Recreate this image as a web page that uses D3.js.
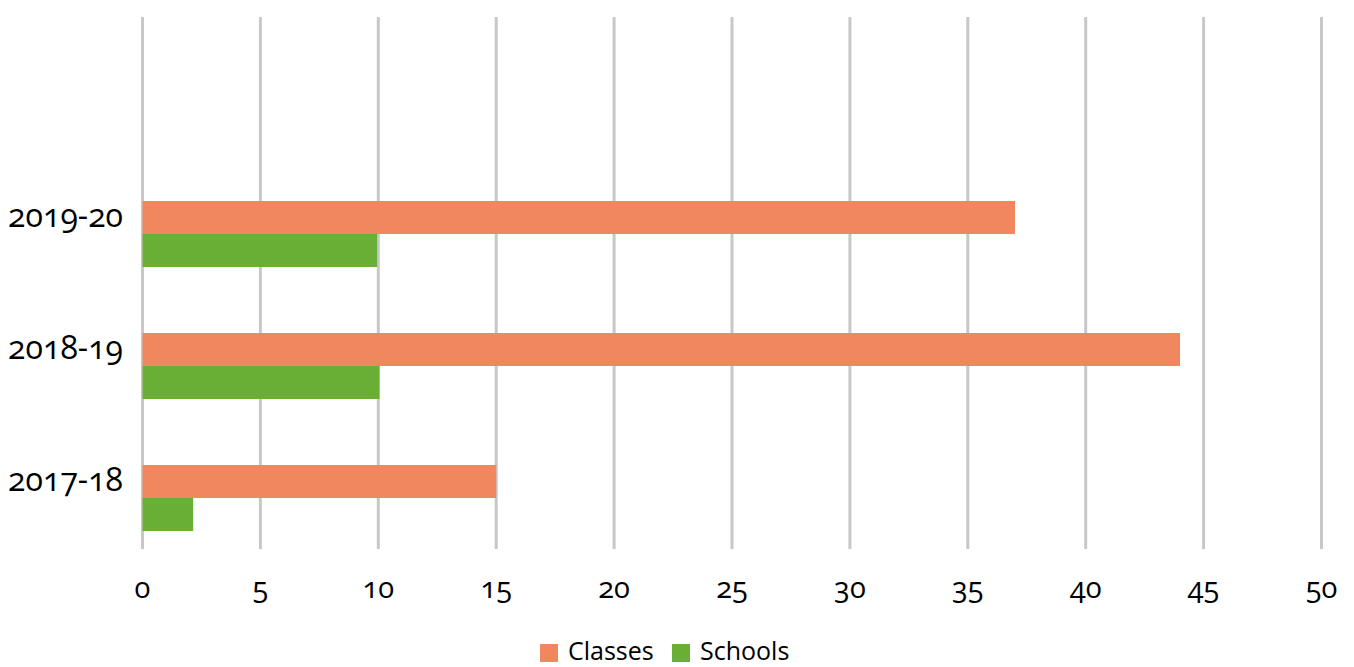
<!DOCTYPE html>
<html>
<head>
<meta charset="utf-8">
<script src="https://cdn.jsdelivr.net/npm/d3@7"></script>
<style>
  body { margin: 0; background: #fff; }
  text { font-family: "Open Sans", sans-serif; font-variant-numeric: oldstyle-nums; fill: #000; }
</style>
</head>
<body>
<script>
var years = ["2019-20", "2018-19", "2017-18"];
var seriesNames = ["Classes", "Schools"];
var classes = [37, 44, 15];
var schools = [9.95, 10.05, 2.15];
var xTicks = [0, 5, 10, 15, 20, 25, 30, 35, 40, 45, 50];
var colors = ["#F0875E", "#6AAF35"];

var w = 1354;
var h = 667;

var svg = d3.select("body")
  .append("svg")
  .attr("width", w)
  .attr("height", h);

var x = d3.scaleLinear().domain([0, 50]).range([142.5, 1321.5]);
var y = d3.scaleBand().domain(years).range([168, 564]);
var y1 = d3.scaleBand().domain(seriesNames)
  .range([y.bandwidth() / 4, y.bandwidth() * 3 / 4]);

// grid lines
svg.selectAll("line.grid")
  .data(xTicks)
  .enter()
  .append("line")
  .attr("class", "grid")
  .attr("x1", function(d) { return x(d); })
  .attr("x2", function(d) { return x(d); })
  .attr("y1", 17)
  .attr("y2", 549)
  .attr("stroke", "#c8c8c8")
  .attr("stroke-width", 3);

// tick labels
svg.selectAll("text.xt")
  .data(xTicks)
  .enter()
  .append("text")
  .attr("class", "xt")
  .attr("x", function(d) { return x(d); })
  .attr("y", 598)
  .attr("text-anchor", "middle")
  .attr("font-size", 29)
  .text(function(d) { return d; });

var rows = years.map(function(yr, i) {
  return { year: yr, values: [classes[i], schools[i]] };
});

var groups = svg.selectAll("g.row")
  .data(rows)
  .enter()
  .append("g")
  .attr("transform", function(d) { return "translate(0," + y(d.year) + ")"; });

groups.selectAll("rect")
  .data(function(d) {
    return d.values.map(function(v, j) { return { name: seriesNames[j], value: v, c: colors[j] }; });
  })
  .enter()
  .append("rect")
  .attr("x", x(0))
  .attr("y", function(d) { return y1(d.name); })
  .attr("width", function(d) { return x(d.value) - x(0); })
  .attr("height", y1.bandwidth())
  .attr("fill", function(d) { return d.c; });

groups.append("text")
  .attr("x", 123)
  .attr("y", y.bandwidth() / 2 - 7)
  .attr("text-anchor", "end")
  .attr("font-size", 32)
  .text(function(d) { return d.year; });

// legend
var legend = svg.append("g");
var lx = [540, 672];
seriesNames.forEach(function(n, i) {
  legend.append("rect")
    .attr("x", lx[i]).attr("y", 644)
    .attr("width", 18).attr("height", 18)
    .attr("fill", colors[i]);
  legend.append("text")
    .attr("x", lx[i] + 28).attr("y", 660)
    .attr("font-size", 25)
    .text(n);
});
</script>
</body>
</html>
